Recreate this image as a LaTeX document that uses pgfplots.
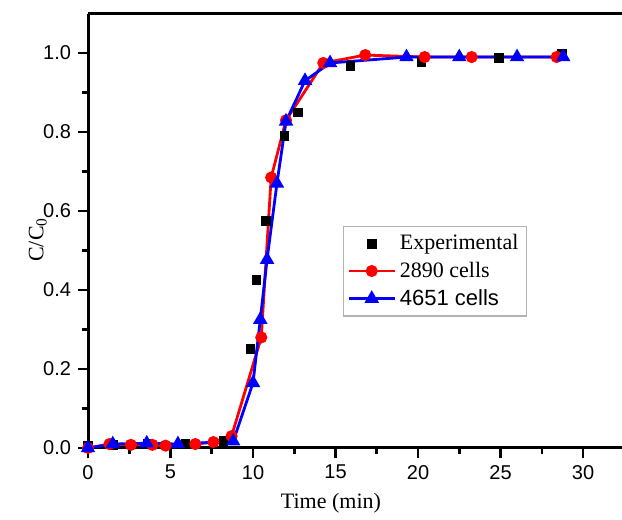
\documentclass[border=0pt]{standalone}
\usepackage{pgfplots}
\pgfplotsset{compat=1.18}
\usepackage{fontspec}
\setmainfont{Liberation Serif}
\newfontfamily\arialf{Liberation Sans}

\pgfplotstableread{
t    c
0    0.005
1.5  0.008
3.6  0.010
5.9  0.010
8.2  0.018
9.84 0.250
10.2 0.425
10.8 0.575
11.9 0.790
12.7 0.850
15.9 0.967
20.2 0.978
24.9 0.987
28.7 0.999
}\expdata

\pgfplotstableread{
t     c
0     0.000
1.3   0.010
2.6   0.008
3.9   0.008
4.7   0.006
6.5   0.010
7.6   0.015
8.7   0.030
10.5  0.280
11.1  0.685
12.0  0.830
14.26 0.975
16.8  0.995
20.4  0.990
23.25 0.990
28.4  0.990
}\cellsA

\pgfplotstableread{
t     c
0     0.000
1.5   0.010
3.56  0.012
5.45  0.010
8.8   0.017
10.0  0.165
10.44 0.325
10.85 0.477
11.45 0.670
12.0  0.827
13.15 0.930
14.67 0.975
19.3  0.990
22.5  0.990
26.0  0.990
28.8  0.990
}\cellsB

\begin{document}
\begin{tikzpicture}
\path[use as bounding box] (0,0) rectangle (311pt,260pt);
\begin{axis}[
    at={(44pt,36pt)}, anchor=south west,
    scale only axis,
    width=267pt, height=217pt,
    xmin=0, xmax=32.36, ymin=0, ymax=1.099,
    axis x line=box, axis y line=left,
    axis line style={line width=1.5pt, -},
    xtick={0,5,...,30}, ytick={0,0.2,...,1.0},
    minor x tick num=1, minor y tick num=1,
    xtick pos=bottom, ytick pos=left,
    tick align=outside,
    major tick length=5pt, minor tick length=3pt,
    every tick/.style={line width=1.3pt, black},
    ticklabel style={font=\arialf\fontsize{10}{12}\selectfont},
    /pgf/number format/assume math mode=true,
    yticklabel style={/pgf/number format/.cd, fixed, fixed zerofill, precision=1},
    xlabel={Time (min)}, ylabel={C/C\textsubscript{0}},
    label style={font=\fontsize{11}{13}\selectfont},
    xlabel style={at={(axis description cs:0.455,-0.127)}, anchor=center},
    ylabel style={at={(axis description cs:-0.094,0.48)}, anchor=center, rotate=0},
    legend cell align=left,
    legend style={at={(axis description cs:0.4775,0.5115)}, anchor=north west,
        draw=gray!60, line width=0.6pt, font=\fontsize{11}{12}\selectfont,
        row sep=0.5pt, inner sep=2pt, nodes={inner xsep=2pt}},
    legend image code/.code={\draw[mark repeat=2,mark phase=2]
        plot coordinates {(0cm,0cm) (0.4cm,0cm) (0.8cm,0cm)};},
]
\addplot[only marks, mark=square*, mark size=2.2pt, black,
    legend image code/.code={\draw plot[mark=square*] coordinates {(0.4cm,0cm)};}]
    table[x=t, y=c] {\expdata};
\addplot[red, line width=1.4pt, mark=*, mark size=2.3pt] table[x=t, y=c] {\cellsA};
\addplot[blue, line width=1.4pt, mark=triangle*, mark size=2.8pt] table[x=t, y=c] {\cellsB};
\legend{Experimental, 2890 cells, {\arialf 4651 cells}}
\end{axis}
\end{tikzpicture}
\end{document}
